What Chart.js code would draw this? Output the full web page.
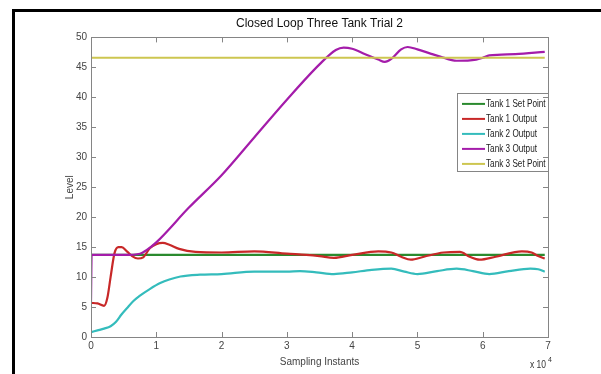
<!DOCTYPE html>
<html>
<head>
<meta charset="utf-8">
<script src="https://cdn.jsdelivr.net/npm/chart.js@4.4.1/dist/chart.umd.min.js"></script>
<style>
  html, body { margin: 0; padding: 0; background: #fff; overflow: hidden; }
  #wrap { position: relative; width: 601px; height: 374px; }
  #frame { position: absolute; left: 12px; top: 9px; width: 620px; height: 400px;
           border-left: 3px solid #000; border-top: 3px solid #000; }
  canvas { position: absolute; left: 0; top: 0; }
</style>
</head>
<body>
<div id="wrap">
  <div id="frame"></div>
  <canvas id="myChart" width="601" height="374"></canvas>
</div>
<script>
// x values are in units of 10^4 sampling instants
const seriesLabels = ['Tank 1 Set Point', 'Tank 1 Output', 'Tank 2 Output', 'Tank 3 Output', 'Tank 3 Set Point'];
const seriesColors = ['#2a8a2e', '#c82828', '#34bcbc', '#a41caa', '#cdc650'];

const tank1SetX = [0, 6.95];
const tank1SetY = [13.7, 13.7];

const tank1OutX = [0, 0.1, 0.2, 0.25, 0.3, 0.36, 0.42, 0.47, 0.55, 0.63, 0.72, 0.8, 0.9, 1.0, 1.1, 1.2, 1.35, 1.6, 2.0, 2.5, 3.0, 3.3, 3.5, 3.72, 4.0, 4.4, 4.6, 4.75, 4.9, 5.1, 5.4, 5.65, 5.8, 5.95, 6.2, 6.6, 6.75, 6.85, 6.95];
const tank1OutY = [5.7, 5.6, 5.2, 6.5, 10.0, 14.0, 15.0, 15.0, 14.3, 13.5, 13.1, 13.3, 14.8, 15.5, 15.7, 15.4, 14.7, 14.2, 14.1, 14.3, 13.9, 13.7, 13.5, 13.2, 13.7, 14.3, 14.1, 13.4, 12.9, 13.4, 14.1, 14.2, 13.4, 12.9, 13.4, 14.3, 14.1, 13.5, 13.1];

const tank2OutX = [0, 0.1, 0.2, 0.3, 0.38, 0.47, 0.55, 0.65, 0.75, 0.9, 1.06, 1.2, 1.37, 1.67, 2.0, 2.5, 3.0, 3.2, 3.45, 3.72, 4.0, 4.3, 4.6, 4.8, 5.0, 5.3, 5.6, 5.85, 6.1, 6.4, 6.73, 6.85, 6.95];
const tank2OutY = [0.8, 1.1, 1.4, 1.8, 2.5, 3.8, 4.8, 6.0, 6.9, 8.0, 9.0, 9.6, 10.1, 10.4, 10.5, 10.9, 10.9, 11.0, 10.8, 10.5, 10.8, 11.2, 11.4, 10.9, 10.5, 11.0, 11.4, 11.0, 10.5, 11.0, 11.4, 11.3, 10.9];

const tank3OutX = [0, 0.01, 0.5, 0.75, 0.85, 1.0, 1.5, 2.0, 2.5, 3.0, 3.5, 3.75, 3.87, 4.0, 4.2, 4.4, 4.5, 4.6, 4.75, 4.85, 5.0, 5.2, 5.35, 5.6, 5.9, 6.0, 6.1, 6.5, 6.95];
const tank3OutY = [6.0, 13.7, 13.7, 13.9, 14.5, 15.8, 21.6, 27.0, 33.3, 39.6, 45.5, 47.9, 48.3, 48.1, 47.2, 46.3, 45.9, 46.4, 48.0, 48.4, 48.0, 47.3, 46.8, 46.1, 46.3, 46.6, 47.0, 47.2, 47.6];

const tank3SetX = [0, 6.95];
const tank3SetY = [46.6, 46.6];

const xTickValues = [0, 1, 2, 3, 4, 5, 6, 7];
const yTickValues = [0, 5, 10, 15, 20, 25, 30, 35, 40, 45, 50];

const FONT = "'Liberation Sans', Arial, sans-serif";

function toPoints(xs, ys) {
    return xs.map((x, i) => ({ x: x, y: ys[i] }));
}

const seriesData = [
    toPoints(tank1SetX, tank1SetY),
    toPoints(tank1OutX, tank1OutY),
    toPoints(tank2OutX, tank2OutY),
    toPoints(tank3OutX, tank3OutY),
    toPoints(tank3SetX, tank3SetY)
];

// narrow-looking text: squeeze horizontally
function narrowText(ctx, text, x, y, squeeze) {
    ctx.save();
    ctx.translate(x, y);
    ctx.scale(squeeze, 1);
    ctx.fillText(text, 0, 0);
    ctx.restore();
}

// axes box with inward tick marks, MATLAB style
const boxPlugin = {
    id: 'boxTicks',
    afterDraw(chart) {
        const ctx = chart.ctx;
        const a = chart.chartArea;
        const xs = chart.scales.x;
        const ys = chart.scales.y;
        ctx.save();
        ctx.strokeStyle = '#858585';
        ctx.lineWidth = 1;
        ctx.strokeRect(Math.round(a.left) + 0.5, Math.round(a.top) + 0.5,
            Math.round(a.right - a.left), Math.round(a.bottom - a.top));
        ctx.beginPath();
        xTickValues.forEach(v => {
            const px = Math.round(xs.getPixelForValue(v)) + 0.5;
            ctx.moveTo(px, a.bottom); ctx.lineTo(px, a.bottom - 5);
            ctx.moveTo(px, a.top); ctx.lineTo(px, a.top + 5);
        });
        yTickValues.forEach(v => {
            const py = Math.round(ys.getPixelForValue(v)) + 0.5;
            ctx.moveTo(a.left, py); ctx.lineTo(a.left + 5, py);
            ctx.moveTo(a.right, py); ctx.lineTo(a.right - 5, py);
        });
        ctx.stroke();

        // exponent note under the x axis
        ctx.fillStyle = '#333';
        ctx.font = '10px ' + FONT;
        ctx.textBaseline = 'middle';
        ctx.textAlign = 'left';
        narrowText(ctx, 'x 10', a.right - 18, 365, 0.85);
        ctx.font = '7px ' + FONT;
        ctx.fillText('4', a.right, 360);
        ctx.restore();
    }
};

// legend box inside the plot, upper right
const legendPlugin = {
    id: 'boxLegend',
    afterDatasetsDraw(chart) {
        const ctx = chart.ctx;
        const a = chart.chartArea;
        const w = 91, h = 78;
        const x0 = a.right - w, y0 = a.top + 56;
        ctx.save();
        ctx.fillStyle = '#fff';
        ctx.fillRect(x0, y0, w, h);
        ctx.strokeStyle = '#858585';
        ctx.lineWidth = 1;
        ctx.strokeRect(Math.round(x0) + 0.5, Math.round(y0) + 0.5, w, h);
        ctx.font = '10.5px ' + FONT;
        ctx.textBaseline = 'middle';
        ctx.textAlign = 'left';
        chart.data.datasets.forEach((ds, i) => {
            const cy = y0 + 10.5 + i * 15;
            ctx.strokeStyle = ds.borderColor;
            ctx.lineWidth = 2;
            ctx.beginPath();
            ctx.moveTo(x0 + 5, cy);
            ctx.lineTo(x0 + 28, cy);
            ctx.stroke();
            ctx.fillStyle = '#222';
            narrowText(ctx, ds.label, x0 + 29, cy + 0.5, 0.78);
        });
        ctx.restore();
    }
};

const ctx = document.getElementById('myChart').getContext('2d');
new Chart(ctx, {
    type: 'line',
    data: {
        datasets: seriesLabels.map((label, i) => ({
            label: label,
            data: seriesData[i],
            borderColor: seriesColors[i],
            backgroundColor: seriesColors[i],
            borderWidth: 2.2,
            pointRadius: 0,
            fill: false,
            cubicInterpolationMode: 'monotone',
            order: seriesLabels.length - i
        }))
    },
    options: {
        responsive: false,
        animation: false,
        layout: { padding: { left: 0, right: 53, top: 0, bottom: 0 } },
        plugins: {
            legend: { display: false },
            tooltip: { enabled: false },
            title: {
                display: true,
                text: 'Closed Loop Three Tank Trial 2',
                fullSize: false,
                color: '#111',
                font: { family: FONT, size: 12, weight: 'normal' },
                padding: { top: 16, bottom: 7 }
            }
        },
        scales: {
            x: {
                type: 'linear',
                min: 0,
                max: 7,
                afterBuildTicks: s => { s.ticks = xTickValues.map(v => ({ value: v })); },
                afterFit: s => { s.height = 37; },
                grid: { display: false, drawTicks: false },
                border: { display: false },
                ticks: { color: '#444', font: { family: FONT, size: 10 }, padding: 3, maxRotation: 0 },
                title: {
                    display: true,
                    text: 'Sampling Instants',
                    color: '#444',
                    font: { family: FONT, size: 10 },
                    padding: { top: 0, bottom: 6 }
                }
            },
            y: {
                type: 'linear',
                min: 0,
                max: 50,
                afterBuildTicks: s => { s.ticks = yTickValues.map(v => ({ value: v })); },
                afterFit: s => { s.width = 91; },
                grid: { display: false, drawTicks: false },
                border: { display: false },
                ticks: { color: '#444', font: { family: FONT, size: 10 }, padding: 4 },
                title: {
                    display: true,
                    text: 'Level',
                    color: '#444',
                    font: { family: FONT, size: 10 },
                    padding: { top: 64, bottom: 0 }
                }
            }
        }
    },
    plugins: [boxPlugin, legendPlugin]
});
</script>
</body>
</html>
